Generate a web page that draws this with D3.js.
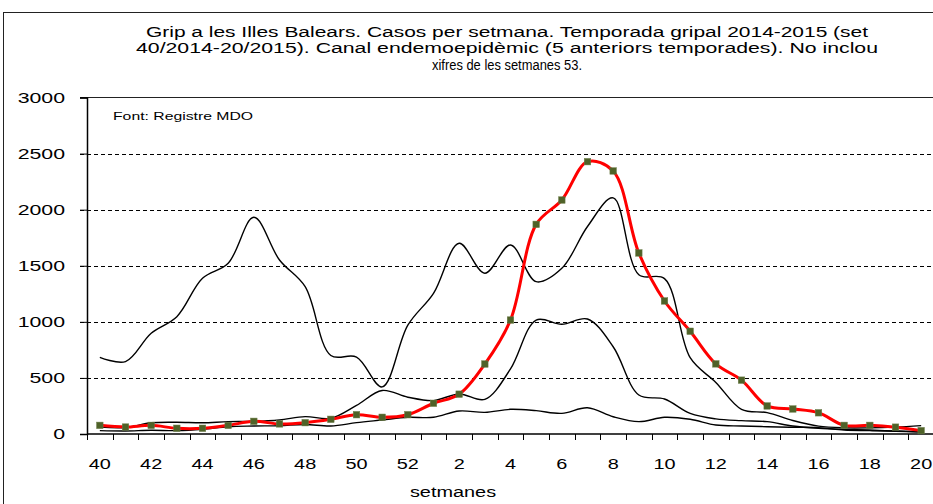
<html lang="ca">
<head>
    <meta charset="UTF-8">
    <title>Grip a les Illes Balears</title>
    <style>
        body { margin: 0; background: #fff; }
        text { font-family: "Liberation Sans", Arial, sans-serif; fill: #000; }
    </style>
</head>
<body>
    <div id="graph"></div>
    <script src="https://d3js.org/d3.v7.min.js"></script>
    <script>
        // weeks of the season (40/2014 - 20/2015)
        var weeks = [40, 41, 42, 43, 44, 45, 46, 47, 48, 49, 50, 51, 52,
                     1, 2, 3, 4, 5, 6, 7, 8, 9, 10, 11, 12, 13, 14, 15, 16, 17, 18, 19, 20];
        var labelWeeks = [40, 42, 44, 46, 48, 50, 52, 2, 4, 6, 8, 10, 12, 14, 16, 18, 20];
        var yTicks = [0, 500, 1000, 1500, 2000, 2500, 3000];

        // temporada 2014-2015 (red)
        var season = [77, 62, 77, 51, 51, 77, 113, 90, 101, 131, 172, 149, 172,
                      274, 355, 624, 1016, 1869, 2086, 2428, 2345, 1614, 1186, 916, 625,
                      480, 250, 223, 189, 77, 77, 61, 30];
        // canal endemoepidemic (black)
        var upper = [684, 645, 898, 1046, 1388, 1522, 1932, 1551, 1313, 700, 686, 420, 970,
                     1254, 1700, 1433, 1685, 1358, 1477, 1850, 2105, 1420, 1385, 680, 460,
                     220, 190, 120, 70, 55, 55, 62, 75];
        var middle = [62, 58, 100, 105, 100, 110, 112, 125, 155, 140, 255, 388, 328,
                      298, 357, 309, 580, 1016, 978, 1025, 778, 348, 312, 184, 135,
                      119, 110, 71, 51, 41, 35, 27, 20];
        var lower = [30, 27, 33, 30, 42, 65, 71, 74, 85, 71, 101, 125, 149,
                     149, 205, 193, 220, 208, 184, 234, 154, 110, 149, 131, 80,
                     71, 65, 60, 57, 35, 30, 24, 18];

        var titleLines = [
            "Grip a les Illes Balears.  Casos per setmana. Temporada gripal 2014-2015 (set",
            "40/2014-20/2015). Canal endemoepidèmic  (5  anteriors temporades). No inclou",
            "xifres de les setmanes 53."
        ];

        var W = 933, H = 504;
        var pLeft = 87, pRight = 934, pTop = 97.5, pBottom = 434;
        var stretch = 1.42;

        var svg = d3.select("#graph").append("svg")
            .attr("width", W)
            .attr("height", H);

        // outer frame
        svg.append("rect")
            .attr("x", 3.5).attr("y", 12.5)
            .attr("width", 1000).attr("height", 1000)
            .attr("fill", "none").attr("stroke", "#222").attr("stroke-width", 1);

        var x = d3.scaleBand().domain(weeks).range([pLeft, pRight]).padding(0);
        var y = d3.scaleLinear().domain([0, 3000]).range([pBottom, pTop]);
        var cx = function(i) { return x(weeks[i]) + x.bandwidth() / 2; };

        // title
        var titleLen = [722, 742, 150];
        var titleBase = [36.5, 53, 69.5];
        titleLines.forEach(function(t, i) {
            svg.append("text")
                .attr("x", 507).attr("y", titleBase[i])
                .attr("text-anchor", "middle")
                .attr("font-size", 15.5)
                .attr("textLength", titleLen[i])
                .attr("lengthAdjust", "spacingAndGlyphs")
                .text(t);
        });

        // grid
        svg.append("g").selectAll("line")
            .data(yTicks.filter(function(d) { return d > 0 && d < 3000; }))
            .enter().append("line")
            .attr("x1", pLeft - 7).attr("x2", pRight)
            .attr("y1", function(d) { return Math.round(y(d)) + 0.5; })
            .attr("y2", function(d) { return Math.round(y(d)) + 0.5; })
            .attr("stroke", "#000").attr("stroke-width", 1)
            .attr("stroke-dasharray", "4,3");
        svg.append("line")
            .attr("x1", pLeft - 7).attr("x2", pRight)
            .attr("y1", y(3000)).attr("y2", y(3000))
            .attr("stroke", "#222").attr("stroke-width", 1);

        // y axis
        var yAxis = svg.append("g")
            .attr("transform", "translate(" + pLeft + ",0)")
            .call(d3.axisLeft(y).tickValues(yTicks).tickSize(7).tickFormat(""));
        yAxis.select(".domain").attr("stroke-width", 1.5);
        yAxis.selectAll(".tick line").attr("stroke-width", 1);
        svg.append("g").selectAll("text")
            .data(yTicks)
            .enter().append("text")
            .attr("transform", function(d) { return "translate(65," + (y(d) + 5.3) + ") scale(" + stretch + ",1)"; })
            .attr("text-anchor", "end")
            .attr("font-size", 15)
            .text(function(d) { return d; });

        // x axis: ticks on band edges, labels in band centres
        var xAxis = svg.append("g");
        xAxis.append("line")
            .attr("x1", pLeft).attr("x2", pRight)
            .attr("y1", pBottom).attr("y2", pBottom)
            .attr("stroke", "#000").attr("stroke-width", 1.5);
        xAxis.selectAll(".tk")
            .data(weeks)
            .enter().append("line")
            .attr("class", "tk")
            .attr("x1", function(d) { return Math.round(x(d)) + 0.5; })
            .attr("x2", function(d) { return Math.round(x(d)) + 0.5; })
            .attr("y1", pBottom).attr("y2", pBottom + 6)
            .attr("stroke", "#000").attr("stroke-width", 1);
        xAxis.selectAll("text")
            .data(labelWeeks)
            .enter().append("text")
            .attr("transform", function(d) {
                return "translate(" + (x(d) + x.bandwidth() / 2) + ",468.5) scale(" + stretch + ",1)";
            })
            .attr("text-anchor", "middle")
            .attr("font-size", 14)
            .text(function(d) { return d; });

        svg.append("text")
            .attr("transform", "translate(453,497) scale(" + stretch + ",1)")
            .attr("text-anchor", "middle")
            .attr("font-size", 14)
            .text("setmanes");

        svg.append("text")
            .attr("x", 113).attr("y", 120)
            .attr("font-size", 11.5)
            .attr("textLength", 140)
            .attr("lengthAdjust", "spacingAndGlyphs")
            .text("Font: Registre MDO");

        // lines
        var line = d3.line()
            .x(function(d, i) { return cx(i); })
            .y(function(d) { return y(d); })
            .curve(d3.curveCatmullRom);

        [upper, middle, lower].forEach(function(s) {
            svg.append("path")
                .datum(s)
                .attr("d", line)
                .attr("fill", "none")
                .attr("stroke", "#000")
                .attr("stroke-width", 1.4);
        });

        svg.append("path")
            .datum(season)
            .attr("d", line)
            .attr("fill", "none")
            .attr("stroke", "#ff0000")
            .attr("stroke-width", 3);

        svg.append("g").selectAll("rect")
            .data(season)
            .enter().append("rect")
            .attr("x", function(d, i) { return cx(i) - 3.25; })
            .attr("y", function(d) { return y(d) - 3.25; })
            .attr("width", 6.5).attr("height", 6.5)
            .attr("fill", "#4f6228")
            .attr("stroke", "#6b7d48").attr("stroke-width", 0.5);
    </script>
</body>
</html>
